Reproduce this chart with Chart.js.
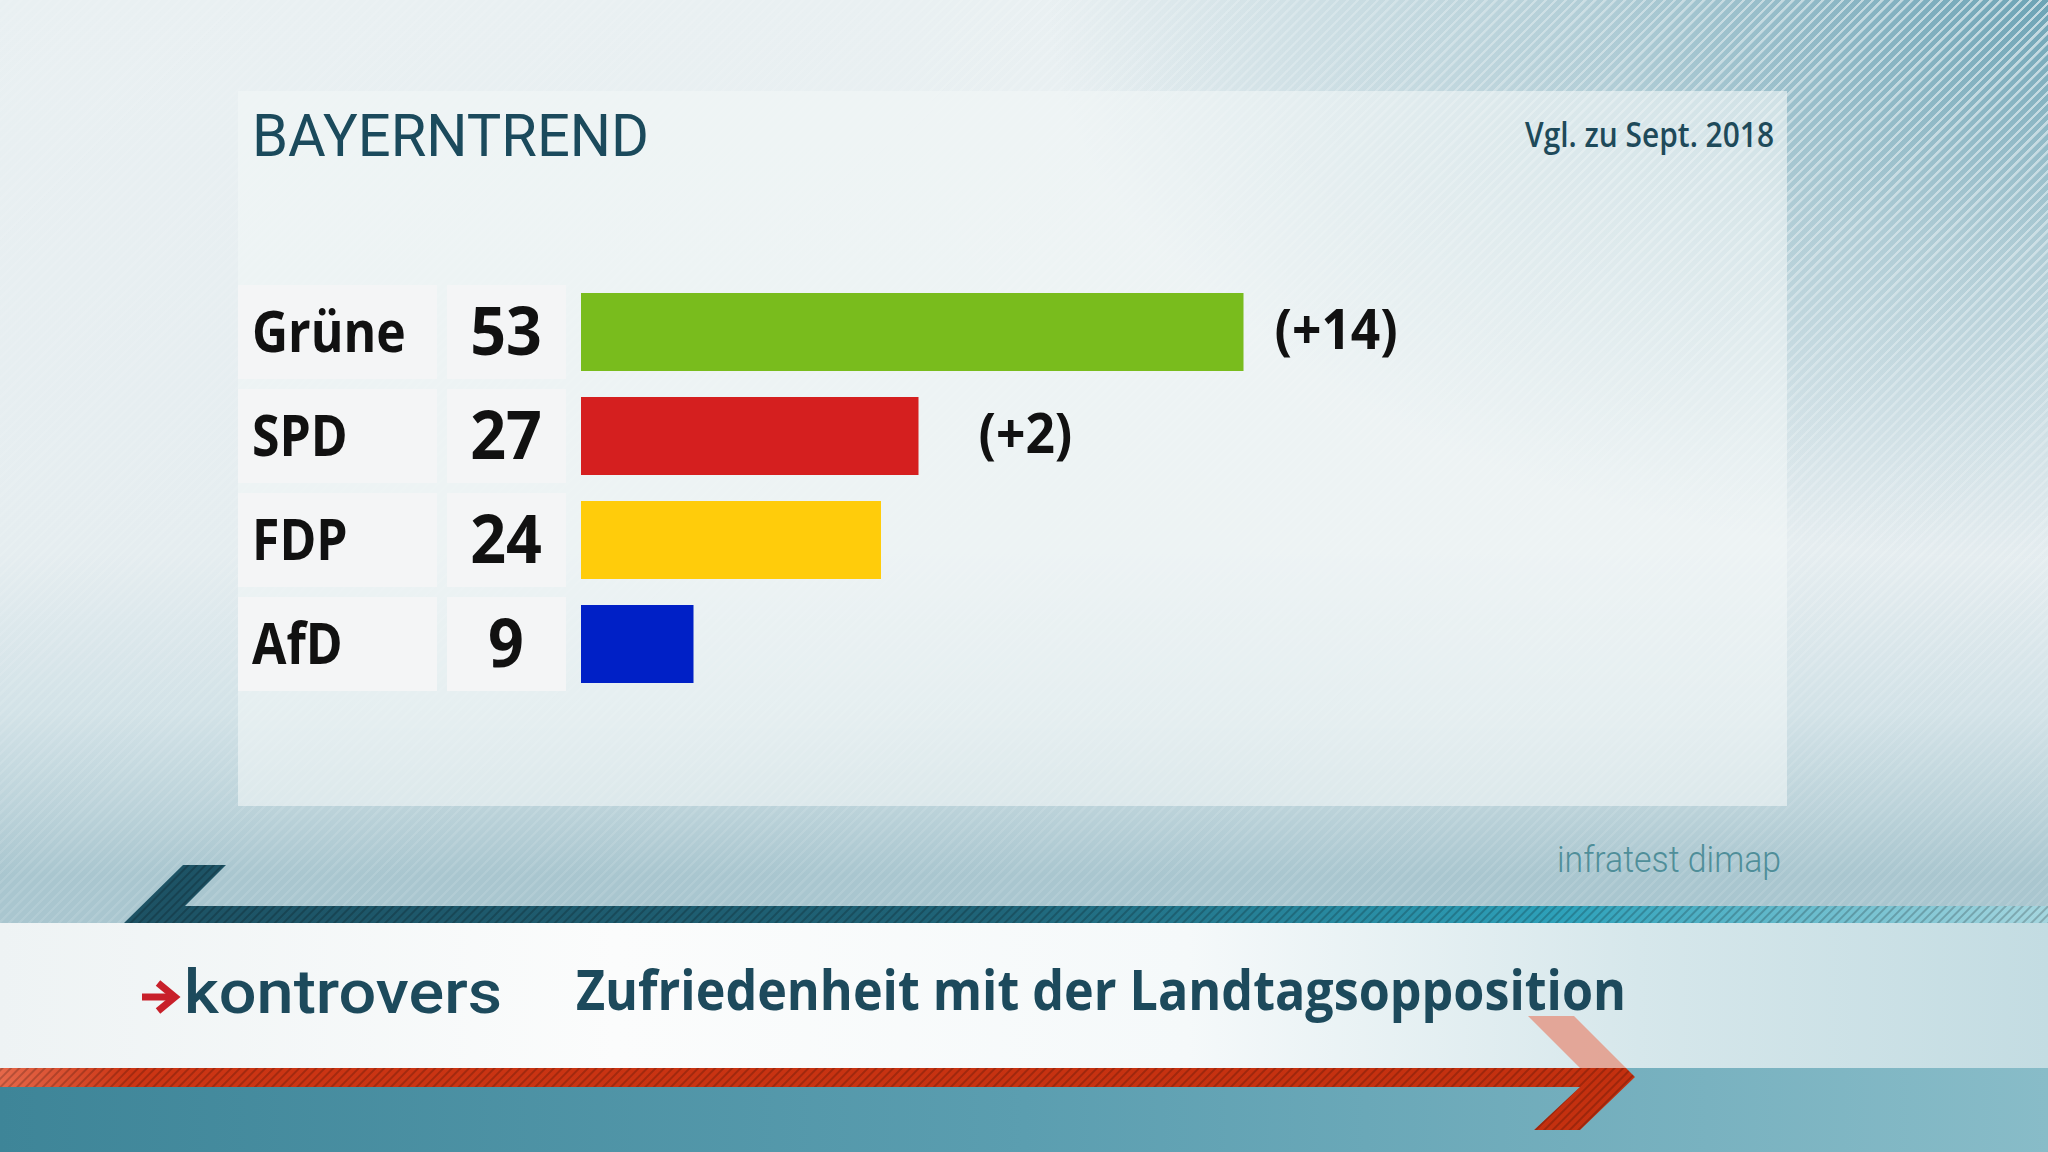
<!DOCTYPE html>
<html><head><meta charset="utf-8">
<script src="https://cdn.jsdelivr.net/npm/chart.js@4"></script>
<style>
html,body{margin:0;padding:0;width:2048px;height:1152px;overflow:hidden;background:#e8f0f2}
#bg{position:absolute;left:0;top:0;width:2048px;height:1152px;
 background:
  radial-gradient(ellipse 1000px 560px at 100% 0%, rgba(95,155,175,0.9) 0%, rgba(120,170,186,0.5) 45%, rgba(150,190,200,0) 100%),
  linear-gradient(180deg,#e9f0f2 0%,#e5edf0 48%,#d2e2e7 62%,#bcd3da 70%,#a9c6cf 76%);}
#stripes{position:absolute;left:0;top:0;width:2048px;height:1152px;
 background:repeating-linear-gradient(135deg, rgba(255,255,255,0.6) 0px, rgba(255,255,255,0.6) 2px, rgba(255,255,255,0) 2.6px, rgba(255,255,255,0) 7px);
 -webkit-mask-image: radial-gradient(ellipse 1200px 760px at 100% 0%, #000 0%, rgba(0,0,0,0.35) 60%, rgba(0,0,0,0.18) 100%);
 mask-image: radial-gradient(ellipse 1200px 760px at 100% 0%, #000 0%, rgba(0,0,0,0.35) 60%, rgba(0,0,0,0.18) 100%);}
#panel{position:absolute;left:238px;top:91px;width:1549px;height:715px;background:rgba(242,246,247,0.6)}
svg#deco{position:absolute;left:0;top:0}
canvas#c{position:absolute;left:0;top:0}
</style>
</head>
<body>
<div id="bg"></div>
<div id="stripes"></div>
<div id="panel"></div>
<svg id="deco" width="2048" height="1152" xmlns="http://www.w3.org/2000/svg">
 <defs>
  <linearGradient id="tealBar" x1="0" x2="1" y1="0" y2="0">
   <stop offset="0" stop-color="#1d5264"/>
   <stop offset="0.45" stop-color="#1f6478"/>
   <stop offset="0.75" stop-color="#2ea2bb"/>
   <stop offset="1" stop-color="#a5d6df"/>
  </linearGradient>
  <linearGradient id="band" x1="0" x2="1" y1="0" y2="0">
   <stop offset="0" stop-color="#eef3f4"/>
   <stop offset="0.3" stop-color="#fbfcfc"/>
   <stop offset="0.58" stop-color="#f5f9fa"/>
   <stop offset="0.8" stop-color="#d6e7eb"/>
   <stop offset="1" stop-color="#c3dce2"/>
  </linearGradient>
  <linearGradient id="bottom" x1="0" x2="1" y1="0" y2="0">
   <stop offset="0" stop-color="#3e8598"/>
   <stop offset="0.5" stop-color="#5b9eb0"/>
   <stop offset="1" stop-color="#88bcc8"/>
  </linearGradient>
  <linearGradient id="red" x1="0" x2="1" y1="0" y2="0">
   <stop offset="0" stop-color="#e6684a"/>
   <stop offset="0.08" stop-color="#cc3514"/>
   <stop offset="1" stop-color="#c4300f"/>
  </linearGradient>
  <pattern id="hatch" width="6" height="6" patternUnits="userSpaceOnUse" patternTransform="rotate(45)">
   <rect width="2" height="6" fill="rgba(0,0,0,0.2)"/>
  </pattern>
 </defs>
 <rect x="0" y="1068" width="2048" height="84" fill="url(#bottom)"/>
 <rect x="0" y="923" width="2048" height="145" fill="url(#band)"/>
 <polygon points="124,923 183,865 226,865 185,906 2048,906 2048,923" fill="url(#tealBar)"/>
 <polygon points="124,923 183,865 226,865 185,906 2048,906 2048,923" fill="url(#hatch)"/>
 <polygon points="1528,1016 1574,1016 1626,1068 1580,1068" fill="#e49a88" opacity="0.85"/>
 <polygon points="0,1068 1626,1068 1635,1077 1580,1130 1534,1130 1580,1087 0,1087" fill="url(#red)"/>
 <polygon points="0,1068 1626,1068 1635,1077 1580,1130 1534,1130 1580,1087 0,1087" fill="url(#hatch)"/>
 <text x="252" y="156" font-family="Roboto" font-weight="400" font-size="60" fill="#1b4a5c" textLength="397" lengthAdjust="spacingAndGlyphs">BAYERNTREND</text>
 <text x="1774" y="147" text-anchor="end" font-family="Open Sans" font-weight="600" font-size="34" fill="#1e4a5a" textLength="249" lengthAdjust="spacingAndGlyphs">Vgl. zu Sept. 2018</text>
 <text x="1557" y="872" font-family="Roboto" font-weight="300" font-size="36" fill="#4f8e99" textLength="224" lengthAdjust="spacingAndGlyphs">infratest dimap</text>
 <g stroke="#c8202a" stroke-width="7" fill="none" stroke-linecap="butt">
  <line x1="142" y1="997" x2="174" y2="997"/>
  <polyline points="158,983 175,997 158,1011"/>
 </g>
 <text x="184" y="1013" font-family="Roboto" font-weight="500" font-size="62" fill="#1d4a5c" textLength="318" lengthAdjust="spacingAndGlyphs">kontrovers</text>
 <text x="576" y="1010" font-family="Open Sans" font-weight="700" font-size="56" fill="#1d4a5c" textLength="1050" lengthAdjust="spacingAndGlyphs">Zufriedenheit mit der Landtagsopposition</text>
</svg>
<canvas id="c" width="2048" height="1152"></canvas>
<script>
const categories = ['Grüne', 'SPD', 'FDP', 'AfD'];
const values = [53, 27, 24, 9];
const changes = ['(+14)', '(+2)', '', ''];

const barColors = ['#79bc1d', '#d51f1f', '#ffcc0b', '#0020c6'];
const changeGap = [31, 60, 40, 40];

const cellPlugin = {
  id: 'cells',
  beforeDatasetsDraw(chart) {
    const ctx = chart.ctx, y = chart.scales.y;
    ctx.save();
    ctx.fillStyle = '#f4f5f6';
    categories.forEach((c, i) => {
      const yc = y.getPixelForValue(i);
      ctx.fillRect(238, yc - 47, 199, 94);
      ctx.fillRect(447, yc - 47, 119, 94);
    });
    ctx.restore();
  },
  afterDatasetsDraw(chart) {
    const ctx = chart.ctx, x = chart.scales.x, y = chart.scales.y;
    categories.forEach((c, i) => {
      const yc = y.getPixelForValue(i);
      ctx.save();
      ctx.fillStyle = '#111';
      ctx.textBaseline = 'alphabetic';
      ctx.translate(252, yc + 20);
      ctx.scale(0.86, 1);
      ctx.font = '700 58px "Open Sans"';
      ctx.textAlign = 'left';
      ctx.fillText(c, 0, 0);
      ctx.restore();

      ctx.save();
      ctx.fillStyle = '#111';
      ctx.translate(506, yc + 23);
      ctx.scale(0.95, 1);
      ctx.font = '700 66px "Open Sans"';
      ctx.textAlign = 'center';
      ctx.fillText(String(values[i]), 0, 0);
      ctx.restore();

      if (changes[i]) {
        const xe = x.getPixelForValue(values[i]);
        ctx.save();
        ctx.fillStyle = '#111';
        ctx.translate(xe + changeGap[i], yc + 17);
        ctx.scale(0.92, 1);
        ctx.font = '700 56px "Open Sans"';
        ctx.textAlign = 'left';
        ctx.fillText(changes[i], 0, 0);
        ctx.restore();
      }
    });
  }
};

new Chart(document.getElementById('c'), {
  type: 'bar',
  data: {
    labels: categories,
    datasets: [{
      data: values,
      backgroundColor: barColors,
      borderWidth: 0,
      barPercentage: 0.75,
      categoryPercentage: 1
    }]
  },
  options: {
    indexAxis: 'y',
    responsive: false,
    animation: false,
    devicePixelRatio: 1,
    layout: { padding: { left: 581, right: 217, top: 280, bottom: 456 } },
    plugins: { legend: { display: false }, tooltip: { enabled: false } },
    scales: {
      x: { display: false, min: 0, max: 100 },
      y: { display: false }
    }
  },
  plugins: [cellPlugin]
});
</script>
</body></html>
